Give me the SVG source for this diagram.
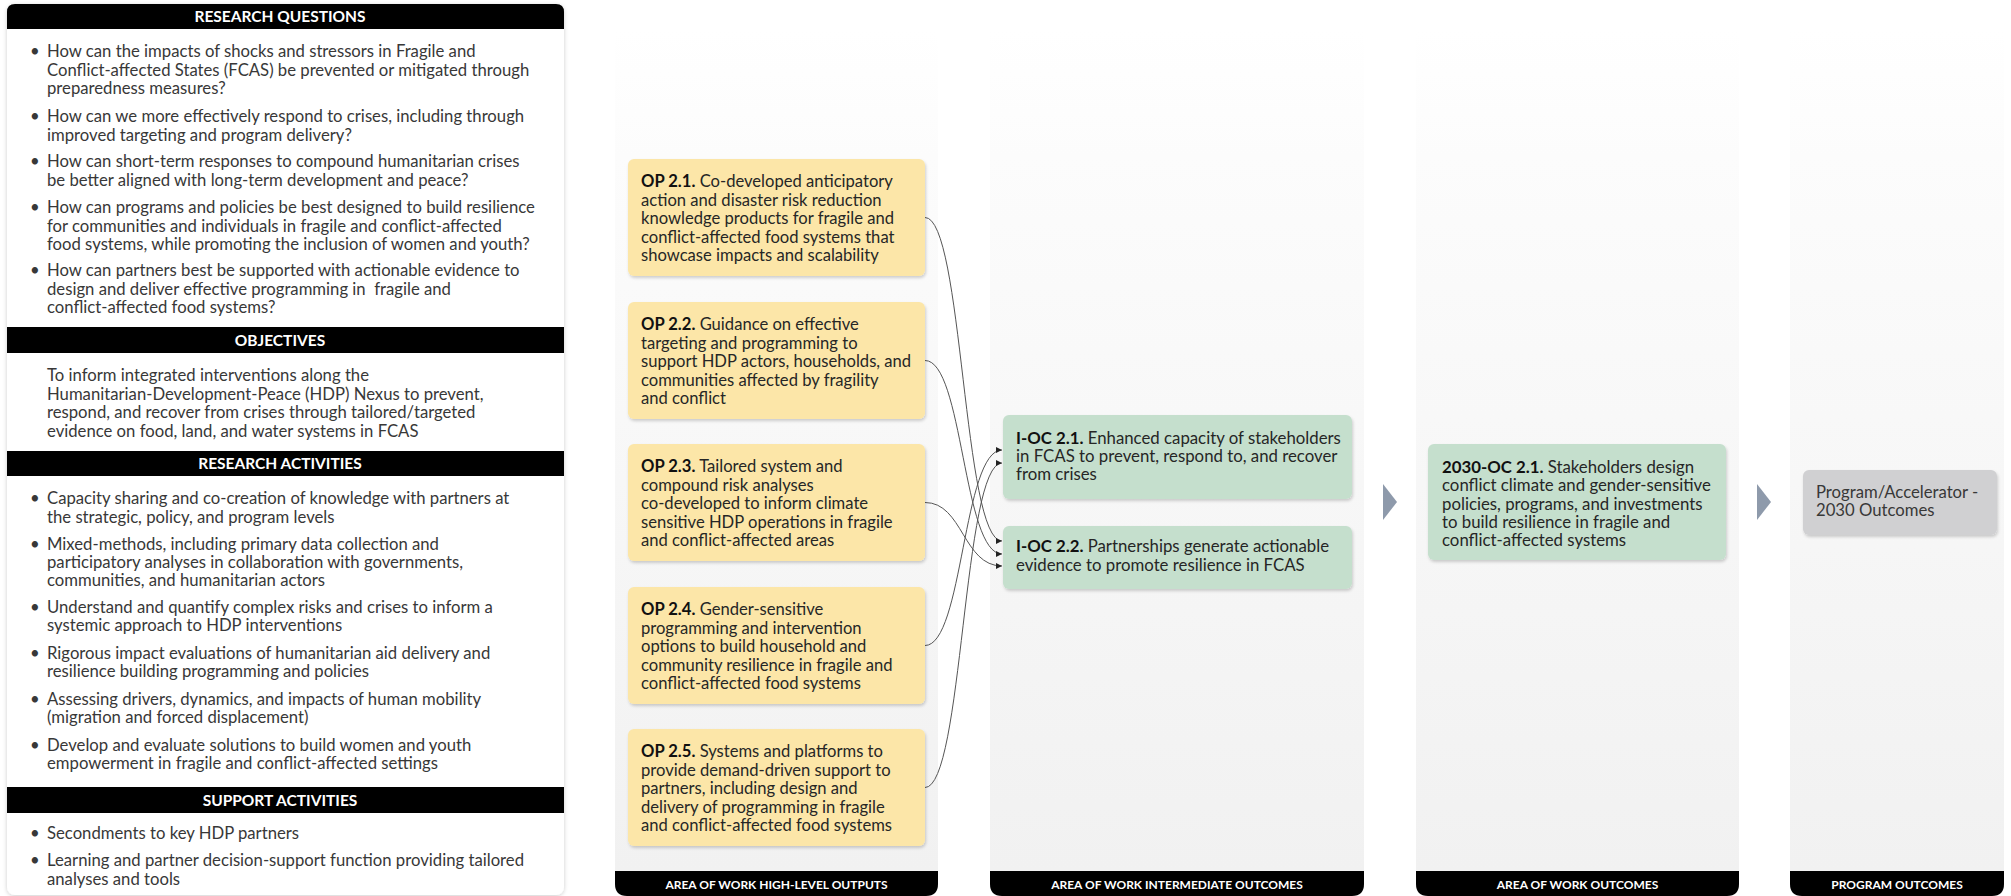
<svg xmlns="http://www.w3.org/2000/svg" width="2011" height="896" viewBox="0 0 2011 896">
<style>
.t{font-family:Lato,"Open Sans","Liberation Sans",sans-serif;font-size:16.7px;fill:#383838}
.bx{font-family:Lato,"Open Sans","Liberation Sans",sans-serif;font-size:16.8px;fill:#262626}
.opt{font-size:16.6px}
.b{font-weight:700;fill:#111}
.hdr{font-family:Lato,"Open Sans","Liberation Sans",sans-serif;font-size:15.5px;font-weight:700;fill:#fff;text-anchor:middle}
.ftr{font-family:Lato,"Open Sans","Liberation Sans",sans-serif;font-size:12px;font-weight:700;fill:#fff;text-anchor:middle}
.col{fill:url(#colGrad)}
.bar{fill:#000}
.op{fill:#FCE6A8;filter:url(#sh)}
.oc{fill:#C5DFCD;filter:url(#sh)}
.pg{fill:#D0D0D2;filter:url(#sh)}
.chev{fill:#8E9AAB}
.con{fill:none;stroke:#555;stroke-width:1;marker-end:url(#arr)}
</style>
<defs>
<linearGradient id="colGrad" x1="0" y1="0" x2="0" y2="1">
<stop offset="0" stop-color="#ffffff"/>
<stop offset="0.15" stop-color="#fcfcfc"/>
<stop offset="1" stop-color="#f1f1f1"/>
</linearGradient>
<filter id="sh" x="-5%" y="-5%" width="110%" height="120%">
<feDropShadow dx="1" dy="2" stdDeviation="1.5" flood-color="#000" flood-opacity="0.18"/>
</filter>
<filter id="psh" x="-3%" y="-3%" width="106%" height="106%">
<feDropShadow dx="0" dy="1" stdDeviation="2" flood-color="#000" flood-opacity="0.2"/>
</filter>
<marker id="arr" markerUnits="userSpaceOnUse" markerWidth="7" markerHeight="7" refX="6" refY="3" orient="auto">
<path d="M0,0 L6,3 L0,6 z" fill="#222"/>
</marker>
</defs>

<rect width="2011" height="896" fill="#fff"/>

<!-- column backgrounds and footers -->
<g id="columns">
<rect class="col" x="615" y="30" width="323" height="841"/>
<rect class="col" x="990" y="30" width="374" height="841"/>
<rect class="col" x="1416" y="30" width="323" height="841"/>
<rect class="col" x="1790" y="30" width="214" height="841"/>
<path class="bar" d="M615,871 H938 V884 Q938,896 926,896 H627 Q615,896 615,884 Z"/>
<path class="bar" d="M990,871 H1364 V884 Q1364,896 1352,896 H1002 Q990,896 990,884 Z"/>
<path class="bar" d="M1416,871 H1739 V884 Q1739,896 1727,896 H1428 Q1416,896 1416,884 Z"/>
<path class="bar" d="M1790,871 H2004 V884 Q2004,896 1992,896 H1802 Q1790,896 1790,884 Z"/>
<text class="ftr" x="776.5" y="889">AREA OF WORK HIGH-LEVEL OUTPUTS</text>
<text class="ftr" x="1177" y="889">AREA OF WORK INTERMEDIATE OUTCOMES</text>
<text class="ftr" x="1577.5" y="889">AREA OF WORK OUTCOMES</text>
<text class="ftr" x="1897" y="889">PROGRAM OUTCOMES</text>
</g>

<!-- left panel -->
<g id="left-panel">
<rect x="7" y="4" width="557" height="891" rx="8" fill="#fff" filter="url(#psh)"/>
<path class="bar" d="M7,29 V12 Q7,4 15,4 H556 Q564,4 564,12 V29 Z"/>
<text class="hdr" x="280" y="22">RESEARCH QUESTIONS</text>
<g class="t">
<text x="30" y="57">•</text>
<text x="47" y="57">How can the impacts of shocks and stressors in Fragile and</text>
<text x="47" y="75.5">Conflict-affected States (FCAS) be prevented or mitigated through</text>
<text x="47" y="94">preparedness measures?</text>
<text x="30" y="122">•</text>
<text x="47" y="122">How can we more effectively respond to crises, including through</text>
<text x="47" y="140.5">improved targeting and program delivery?</text>
<text x="30" y="167">•</text>
<text x="47" y="167">How can short-term responses to compound humanitarian crises</text>
<text x="47" y="185.5">be better aligned with long-term development and peace?</text>
<text x="30" y="213">•</text>
<text x="47" y="213">How can programs and policies be best designed to build resilience</text>
<text x="47" y="231.5">for communities and individuals in fragile and conflict-affected</text>
<text x="47" y="250">food systems, while promoting the inclusion of women and youth?</text>
<text x="30" y="276">•</text>
<text x="47" y="276">How can partners best be supported with actionable evidence to</text>
<text x="47" y="294.5" xml:space="preserve">design and deliver effective programming in  fragile and</text>
<text x="47" y="313">conflict-affected food systems?</text>
</g>
<rect class="bar" x="7" y="327" width="557" height="26"/>
<text class="hdr" x="280" y="345.5">OBJECTIVES</text>
<g class="t">
<text x="47" y="381">To inform integrated interventions along the</text>
<text x="47" y="399.5">Humanitarian-Development-Peace (HDP) Nexus to prevent,</text>
<text x="47" y="418">respond, and recover from crises through tailored/targeted</text>
<text x="47" y="436.5">evidence on food, land, and water systems in FCAS</text>
</g>
<rect class="bar" x="7" y="451" width="557" height="25"/>
<text class="hdr" x="280" y="469">RESEARCH ACTIVITIES</text>
<g class="t">
<text x="30" y="504">•</text>
<text x="47" y="504">Capacity sharing and co-creation of knowledge with partners at</text>
<text x="47" y="522.5">the strategic, policy, and program levels</text>
<text x="30" y="550">•</text>
<text x="47" y="550">Mixed-methods, including primary data collection and</text>
<text x="47" y="568">participatory analyses in collaboration with governments,</text>
<text x="47" y="586">communities, and humanitarian actors</text>
<text x="30" y="612.5">•</text>
<text x="47" y="612.5">Understand and quantify complex risks and crises to inform a</text>
<text x="47" y="631">systemic approach to HDP interventions</text>
<text x="30" y="659">•</text>
<text x="47" y="659">Rigorous impact evaluations of humanitarian aid delivery and</text>
<text x="47" y="677">resilience building programming and policies</text>
<text x="30" y="705">•</text>
<text x="47" y="705">Assessing drivers, dynamics, and impacts of human mobility</text>
<text x="47" y="723">(migration and forced displacement)</text>
<text x="30" y="751">•</text>
<text x="47" y="751">Develop and evaluate solutions to build women and youth</text>
<text x="47" y="769">empowerment in fragile and conflict-affected settings</text>
</g>
<rect class="bar" x="7" y="787" width="557" height="26"/>
<text class="hdr" x="280" y="805.5">SUPPORT ACTIVITIES</text>
<g class="t">
<text x="30" y="838.5">•</text>
<text x="47" y="838.5">Secondments to key HDP partners</text>
<text x="30" y="866">•</text>
<text x="47" y="866">Learning and partner decision-support function providing tailored</text>
<text x="47" y="884.5">analyses and tools</text>
</g>
</g>

<!-- connectors -->
<g id="connectors">
<path class="con" d="M925,217.5 C963,217.5 963,541 1002,541"/>
<path class="con" d="M925,360.5 C963,360.5 963,554 1002,554"/>
<path class="con" d="M925,502.5 C963,502.5 963,566 1002,566"/>
<path class="con" d="M925,645.5 C963,645.5 963,450 1002,450"/>
<path class="con" d="M925,787.5 C963,787.5 963,463 1002,463"/>
</g>

<!-- output nodes -->
<g id="op21">
<rect class="op" x="628" y="159" width="297" height="117" rx="6"/>
<g class="bx opt">
<text x="641" y="187"><tspan class="b">OP 2.1.</tspan> Co-developed anticipatory</text>
<text x="641" y="205.5">action and disaster risk reduction</text>
<text x="641" y="224">knowledge products for fragile and</text>
<text x="641" y="242.5">conflict-affected food systems that</text>
<text x="641" y="261">showcase impacts and scalability</text>
</g>
</g>
<g id="op22">
<rect class="op" x="628" y="302" width="297" height="117" rx="6"/>
<g class="bx opt">
<text x="641" y="330"><tspan class="b">OP 2.2.</tspan> Guidance on effective</text>
<text x="641" y="348.5">targeting and programming to</text>
<text x="641" y="367">support HDP actors, households, and</text>
<text x="641" y="385.5">communities affected by fragility</text>
<text x="641" y="404">and conflict</text>
</g>
</g>
<g id="op23">
<rect class="op" x="628" y="444" width="297" height="117" rx="6"/>
<g class="bx opt">
<text x="641" y="472"><tspan class="b">OP 2.3.</tspan> Tailored system and</text>
<text x="641" y="490.5">compound risk analyses</text>
<text x="641" y="509">co-developed to inform climate</text>
<text x="641" y="527.5">sensitive HDP operations in fragile</text>
<text x="641" y="546">and conflict-affected areas</text>
</g>
</g>
<g id="op24">
<rect class="op" x="628" y="587" width="297" height="117" rx="6"/>
<g class="bx opt">
<text x="641" y="615"><tspan class="b">OP 2.4.</tspan> Gender-sensitive</text>
<text x="641" y="633.5">programming and intervention</text>
<text x="641" y="652">options to build household and</text>
<text x="641" y="670.5">community resilience in fragile and</text>
<text x="641" y="689">conflict-affected food systems</text>
</g>
</g>
<g id="op25">
<rect class="op" x="628" y="729" width="297" height="117" rx="6"/>
<g class="bx opt">
<text x="641" y="757"><tspan class="b">OP 2.5.</tspan> Systems and platforms to</text>
<text x="641" y="775.5">provide demand-driven support to</text>
<text x="641" y="794">partners, including design and</text>
<text x="641" y="812.5">delivery of programming in fragile</text>
<text x="641" y="831">and conflict-affected food systems</text>
</g>
</g>

<!-- intermediate outcomes -->
<g id="ioc21">
<rect class="oc" x="1003" y="415" width="349" height="84" rx="6"/>
<g class="bx">
<text x="1016" y="444"><tspan class="b">I-OC 2.1.</tspan> Enhanced capacity of stakeholders</text>
<text x="1016" y="462">in FCAS to prevent, respond to, and recover</text>
<text x="1016" y="480">from crises</text>
</g>
</g>
<g id="ioc22">
<rect class="oc" x="1003" y="526" width="349" height="63" rx="6"/>
<g class="bx">
<text x="1016" y="552"><tspan class="b">I-OC 2.2.</tspan> Partnerships generate actionable</text>
<text x="1016" y="570.5">evidence to promote resilience in FCAS</text>
</g>
</g>

<polygon class="chev" points="1383,484 1397,502 1383,520"/>

<!-- area of work outcome -->
<g id="oc21">
<rect class="oc" x="1428" y="444" width="298" height="116" rx="6"/>
<g class="bx">
<text x="1442" y="473"><tspan class="b">2030-OC 2.1.</tspan> Stakeholders design</text>
<text x="1442" y="491">conflict climate and gender-sensitive</text>
<text x="1442" y="509.5">policies, programs, and investments</text>
<text x="1442" y="528">to build resilience in fragile and</text>
<text x="1442" y="546">conflict-affected systems</text>
</g>
</g>

<polygon class="chev" points="1757,484 1771,502 1757,520"/>

<!-- program outcome -->
<g id="prog">
<rect class="pg" x="1803" y="470" width="194" height="65" rx="6"/>
<g class="t">
<text x="1816" y="498">Program/Accelerator -</text>
<text x="1816" y="516">2030 Outcomes</text>
</g>
</g>
</svg>
